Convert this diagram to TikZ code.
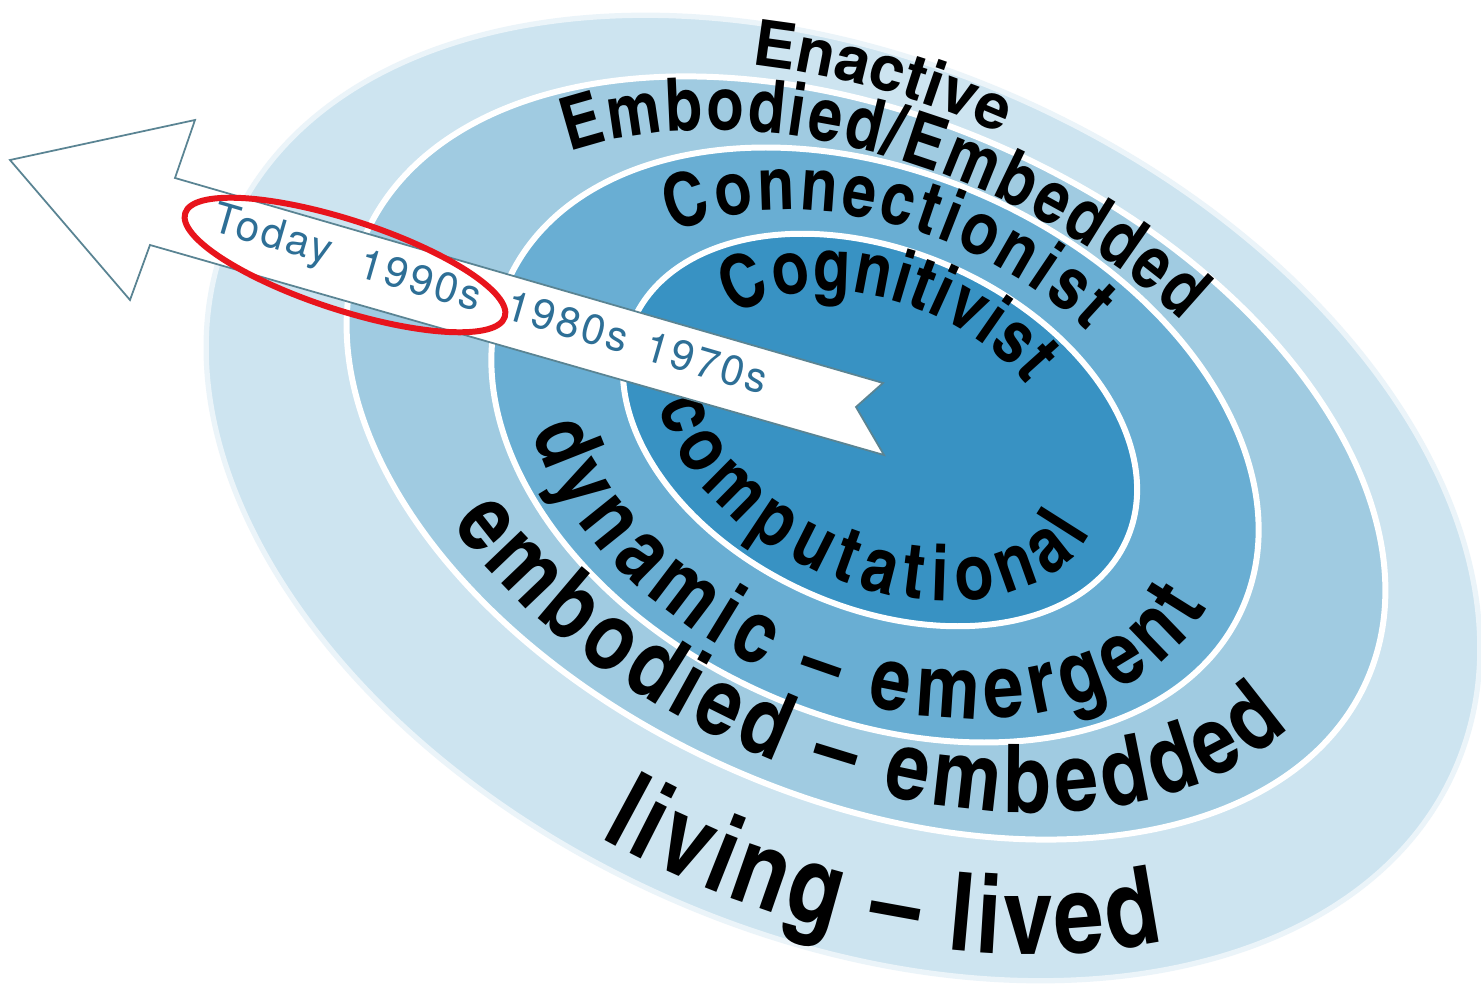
\documentclass[tikz,border=0pt]{standalone}
\usepackage{fontspec}
\usetikzlibrary{decorations.text}

\newfontfamily\topfam{TeX Gyre Heros}
\newfontfamily\lowfam{texgyreheroscn-bold.otf}
\newfontfamily\yearfam{TeX Gyre Heros}[LetterSpace=6]

\definecolor{ringA}{HTML}{CDE4F0}
\definecolor{ringB}{HTML}{A0CBE1}
\definecolor{ringC}{HTML}{69AED3}
\definecolor{ringD}{HTML}{3892C3}
\definecolor{yearblue}{HTML}{2E6F96}
\definecolor{arrowline}{HTML}{5A8493}
\definecolor{redmark}{HTML}{E8141C}

% arc of a ring tilted by 24 degrees: centre x, centre y (down), radii, angles
\newcommand{\ringarc}[6]{plot[domain=#5:#6, samples=90, variable=\t]
  ({#1+(#3)*cos(\t)*0.9135+(#4)*sin(\t)*0.4067},
   {-(#2)-(#3)*cos(\t)*0.4067+(#4)*sin(\t)*0.9135})}

\begin{document}
\begin{tikzpicture}[x=0.01cm, y=0.01cm,
    sep/.style={draw=white, line width=1.7pt},
    ringtext/.style={decorate, decoration={text along path, text align={fit to path}, text={#1}}},
    year/.style={text=yearblue, font=\yearfam\fontsize{12}{12}\selectfont, rotate=-16.2, inner sep=0pt}]
    \useasboundingbox (0,0) rectangle (1481,-985);
    \clip (0,0) rectangle (1481,-985);

    \fill[ringA, rotate around={-24:(843,-498)}] (843,-498) ellipse [x radius=672, y radius=439];
    \draw[white, opacity=.6, line width=3pt, rotate around={-24:(843,-498)}] (843,-498) ellipse [x radius=672, y radius=439];
    \filldraw[fill=ringB, sep, rotate around={-24:(866,-458)}] (866,-458) ellipse [x radius=548, y radius=339];
    \filldraw[fill=ringC, sep, rotate around={-24:(875,-445)}] (875,-445) ellipse [x radius=402, y radius=272];
    \filldraw[fill=ringD, sep, rotate around={-24:(880,-430)}] (880,-430) ellipse [x radius=270, y radius=178];

    \path[ringtext={|\topfam\bfseries\fontsize{18}{18}\selectfont|Enactive}]
        \ringarc{843}{498}{0.905*672}{0.905*439}{115.3}{90.5};
    \path[ringtext={|\lowfam\fontsize{21}{21}\selectfont|Embodied/Embedded}]
        \ringarc{866}{458}{0.86*548}{0.86*339}{147}{60.4};
    \path[ringtext={|\lowfam\fontsize{21}{21}\selectfont|Connectionist}]
        \ringarc{875}{445}{0.79*402}{0.79*272}{148.5}{62.3};
    \path[ringtext={|\lowfam\fontsize{21}{21}\selectfont|Cognitivist}]
        \ringarc{880}{430}{0.71*270}{0.71*178}{159}{52.9};

    \path[ringtext={|\lowfam\fontsize{22}{22}\selectfont|computational}]
        \ringarc{880}{430}{0.87*270}{0.87*178}{205.3}{357};
    \path[ringtext={|\lowfam\fontsize{25}{25}\selectfont|dynamic – emergent}]
        \ringarc{875}{445}{0.92*402}{0.92*272}{210.5}{357};
    \path[ringtext={|\lowfam\fontsize{27}{27}\selectfont|embodied – embedded}]
        \ringarc{866}{458}{0.93*548}{0.93*339}{226.4}{346.5};
    \path[ringtext={|\lowfam\fontsize{31}{31}\selectfont|living – lived}]
        \ringarc{843}{498}{0.94*672}{0.94*439}{262.3}{318.5};

    \coordinate (tip) at (10,-160);
    \coordinate (barbup) at (195,-120);
    \coordinate (neckup) at (175,-178);
    \coordinate (tailup) at (883,-383);
    \coordinate (notch) at (856,-407);
    \coordinate (taildown) at (884,-455);
    \coordinate (neckdown) at (150,-245);
    \coordinate (barbdown) at (130,-300);
    \filldraw[fill=white, draw=arrowline, line width=0.5pt, line join=miter]
        (tip) -- (barbup) -- (neckup) -- (tailup) -- (notch) -- (taildown) -- (neckdown) -- (barbdown) -- cycle;

    \node[year] (today) at (272,-237) {Today};
    \node[year] (nineties) at (421,-280) {1990s};
    \node[year] (eighties) at (568,-322) {1980s};
    \node[year] (seventies) at (707,-363) {1970s};

    \draw[redmark, line width=1.7pt, rotate around={-18:(345,-265)}] (345,-265) ellipse [x radius=168, y radius=45];
\end{tikzpicture}
\end{document}
